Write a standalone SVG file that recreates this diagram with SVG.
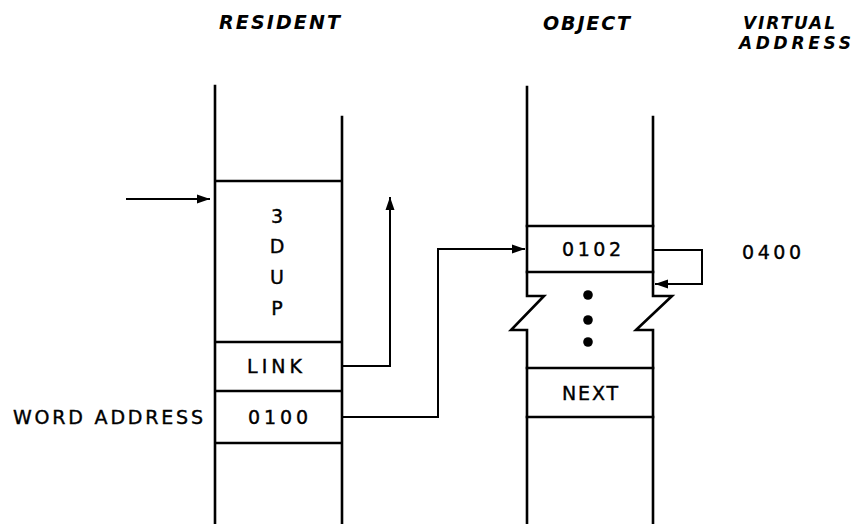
<svg xmlns="http://www.w3.org/2000/svg" width="853" height="524" viewBox="0 0 853 524">
<style>
.col{stroke:#000;stroke-width:2.6;fill:none;stroke-linecap:square}
.con{stroke:#000;stroke-width:2;fill:none}
.t{font-family:"DejaVu Sans","Liberation Sans",sans-serif;font-size:19px;fill:#000;stroke:#000;stroke-width:0.4}
.h{font-family:"DejaVu Sans","Liberation Sans",sans-serif;font-size:19px;font-style:italic;font-weight:bold;fill:#000}
.hs{font-size:17px}
</style>
<defs>
<marker id="ah" markerWidth="14" markerHeight="10" refX="13" refY="5" orient="auto" markerUnits="userSpaceOnUse">
<path d="M0,0.5 L13,5 L0,9.5 Z" fill="#000"/>
</marker>
</defs>
<rect width="853" height="524" fill="#fff"/>
<g id="headers">
<text class="h" x="219" y="29" textLength="121" lengthAdjust="spacing">RESIDENT</text>
<text class="h" x="543" y="30" textLength="87" lengthAdjust="spacing">OBJECT</text>
<text class="h hs" x="743" y="29" textLength="92" lengthAdjust="spacing">VIRTUAL</text>
<text class="h hs" x="739" y="49" textLength="112" lengthAdjust="spacing">ADDRESS</text>
</g>
<g id="resident">
<path class="col" d="M215,86 V524 M342,117 V524 M215,181 H342 M215,342 H342 M215,391 H342 M215,443 H342"/>
<text class="t" x="277" y="223" text-anchor="middle">3</text>
<text class="t" x="277" y="253" text-anchor="middle">D</text>
<text class="t" x="277" y="284" text-anchor="middle">U</text>
<text class="t" x="277" y="315" text-anchor="middle">P</text>
<text class="t" x="247" y="373" textLength="55" lengthAdjust="spacing">LINK</text>
<text class="t" x="248" y="424" textLength="60" lengthAdjust="spacing">0100</text>
</g>
<g id="word-address">
<text class="t" x="13" y="424" textLength="190" lengthAdjust="spacing">WORD  ADDRESS</text>
</g>
<g id="object">
<path class="col" d="M527,87 V296 H544 L511,330 H527 V524"/>
<path class="col" d="M653,117 V296 H672 L636,330 H653 V524"/>
<path class="col" d="M527,226 H653 M527,272 H653 M527,368 H653 M527,417 H653"/>
<text class="t" x="562" y="256" textLength="59" lengthAdjust="spacing">0102</text>
<circle cx="588" cy="295" r="4.8" fill="#000"/>
<circle cx="588" cy="320" r="4.8" fill="#000"/>
<circle cx="588" cy="342" r="4.8" fill="#000"/>
<text class="t" x="562" y="400" textLength="56" lengthAdjust="spacing">NEXT</text>
</g>
<g id="virtual-address">
<text class="t" x="742" y="259" textLength="59" lengthAdjust="spacing">0400</text>
</g>
<g id="connectors">
<path class="con" d="M126,199 H210" marker-end="url(#ah)"/>
<path class="con" d="M343,366 H390 V197" marker-end="url(#ah)"/>
<path class="con" d="M343,417 H438 V249 H525" marker-end="url(#ah)"/>
<path class="con" d="M654,250 H702 V284 H655" marker-end="url(#ah)"/>
</g>
</svg>
